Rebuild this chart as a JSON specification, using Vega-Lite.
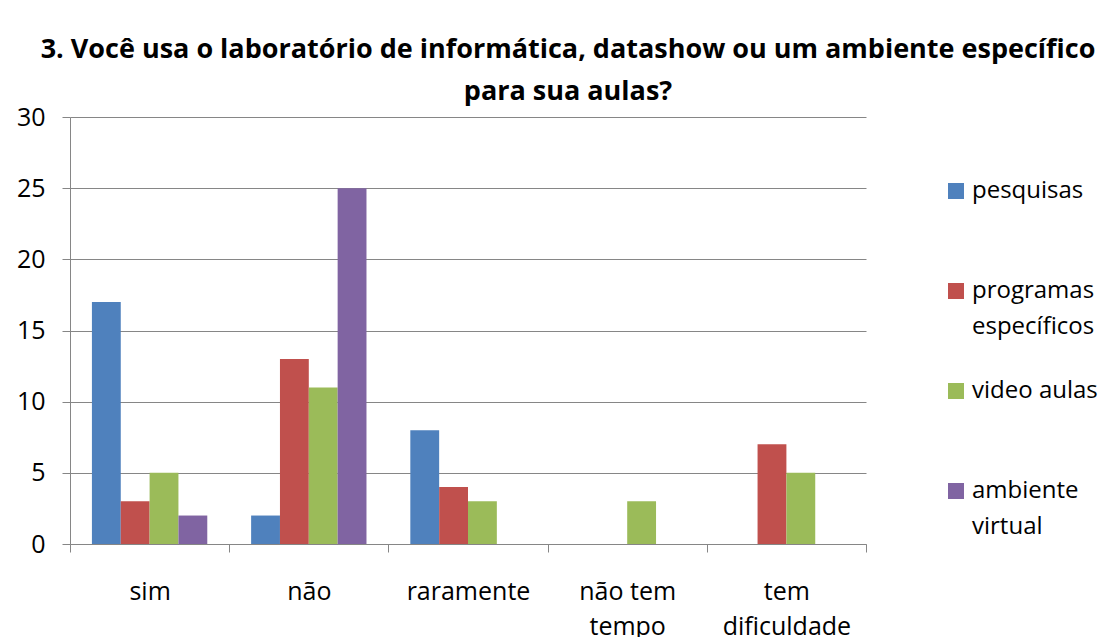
{
  "$schema": "https://vega.github.io/schema/vega-lite/v6.json",
  "width": 796,
  "height": 427,
  "autosize": {"type": "none"},
  "padding": {"left": 70, "top": 117, "right": 247, "bottom": 93},
  "background": "white",
  "title": {
    "text": ["3. Você usa o laboratório de informática, datashow ou um ambiente específico", "para sua aulas?"],
    "font": "Open Sans",
    "fontSize": 27,
    "fontWeight": "bold",
    "color": "#000000",
    "anchor": "middle",
    "dx": 100,
    "dy": 5,
    "lineHeight": 42
  },
  "data": {
    "values": [
      {"resposta": "sim", "serie": "pesquisas", "valor": 17},
      {"resposta": "sim", "serie": "programas específicos", "valor": 3},
      {"resposta": "sim", "serie": "video aulas", "valor": 5},
      {"resposta": "sim", "serie": "ambiente virtual", "valor": 2},
      {"resposta": "não", "serie": "pesquisas", "valor": 2},
      {"resposta": "não", "serie": "programas específicos", "valor": 13},
      {"resposta": "não", "serie": "video aulas", "valor": 11},
      {"resposta": "não", "serie": "ambiente virtual", "valor": 25},
      {"resposta": "raramente", "serie": "pesquisas", "valor": 8},
      {"resposta": "raramente", "serie": "programas específicos", "valor": 4},
      {"resposta": "raramente", "serie": "video aulas", "valor": 3},
      {"resposta": "raramente", "serie": "ambiente virtual", "valor": 0},
      {"resposta": "não tem tempo", "serie": "pesquisas", "valor": 0},
      {"resposta": "não tem tempo", "serie": "programas específicos", "valor": 0},
      {"resposta": "não tem tempo", "serie": "video aulas", "valor": 3},
      {"resposta": "não tem tempo", "serie": "ambiente virtual", "valor": 0},
      {"resposta": "tem dificuldade", "serie": "pesquisas", "valor": 0},
      {"resposta": "tem dificuldade", "serie": "programas específicos", "valor": 7},
      {"resposta": "tem dificuldade", "serie": "video aulas", "valor": 5},
      {"resposta": "tem dificuldade", "serie": "ambiente virtual", "valor": 0}
    ]
  },
  "mark": {"type": "bar"},
  "encoding": {
    "x": {
      "field": "resposta",
      "type": "nominal",
      "sort": ["sim", "não", "raramente", "não tem tempo", "tem dificuldade"],
      "scale": {"paddingInner": 0, "paddingOuter": 0},
      "axis": {
        "title": null,
        "labelAngle": 0,
        "tickBand": "extent",
        "tickSize": 8,
        "tickColor": "#868686",
        "domainColor": "#868686",
        "labelFont": "Open Sans",
        "labelFontSize": 25,
        "labelColor": "#000000",
        "labelPadding": 27,
        "labelBaseline": "top",
        "labelLineHeight": 35,
        "labelExpr": "datum.label == 'não tem tempo' ? ['não tem','tempo'] : datum.label == 'tem dificuldade' ? ['tem','dificuldade'] : datum.label"
      }
    },
    "xOffset": {
      "field": "serie",
      "type": "nominal",
      "sort": ["pesquisas", "programas específicos", "video aulas", "ambiente virtual"],
      "scale": {"paddingInner": 0, "paddingOuter": 0.76}
    },
    "y": {
      "field": "valor",
      "type": "quantitative",
      "scale": {"domain": [0, 30], "nice": false},
      "axis": {
        "title": null,
        "values": [0, 5, 10, 15, 20, 25, 30],
        "tickSize": 8,
        "tickColor": "#868686",
        "domainColor": "#868686",
        "gridColor": "#868686",
        "grid": true,
        "labelFont": "Open Sans",
        "labelFontSize": 25,
        "labelColor": "#000000",
        "labelPadding": 17
      }
    },
    "color": {
      "field": "serie",
      "type": "nominal",
      "scale": {
        "domain": ["pesquisas", "programas específicos", "video aulas", "ambiente virtual"],
        "range": ["#4F81BD", "#C0504D", "#9BBB59", "#8064A2"]
      },
      "legend": {
        "title": null,
        "orient": "none",
        "legendX": 874,
        "legendY": 62,
        "padding": 0,
        "gridAlign": "all",
        "symbolType": "square",
        "symbolSize": 256,
        "symbolStrokeWidth": 0,
        "labelFont": "Open Sans",
        "labelFontSize": 24,
        "labelColor": "#000000",
        "labelOffset": 4,
        "labelLimit": 300,
        "rowPadding": 40,
        "labelExpr": "datum.label == 'programas específicos' ? ['programas','específicos'] : datum.label == 'ambiente virtual' ? ['ambiente','virtual'] : datum.label"
      }
    }
  },
  "config": {
    "view": {"stroke": null},
    "style": {"guide-label": {"lineHeight": 36}}
  }
}
